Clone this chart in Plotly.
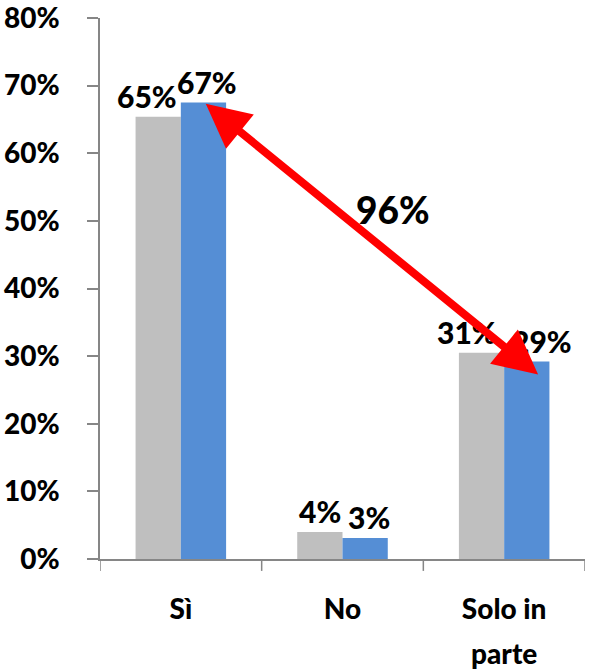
import plotly.graph_objects as go

categories = ["Sì", "No", "Solo in parte"]
grey_values = [65.4, 4.0, 30.5]
blue_values = [67.5, 3.1, 29.2]
grey_labels = ["65%", "4%", "31%"]
blue_labels = ["67%", "3%", "29%"]
arrow_label = "96%"
y_ticks = [0, 10, 20, 30, 40, 50, 60, 70, 80]

GREY = "#BFBFBF"
BLUE = "#558ED5"
RED = "#FF0000"
AXIS = "#868686"
FONT = "Lato"
W = 900

# wrap long category names onto two lines (like the original)
line1, line2 = [], []
for c in categories:
    if len(c) > 8 and " " in c:
        a, b = c.rsplit(" ", 1)
    else:
        a, b = c, ""
    line1.append(a)
    line2.append(b)

fig = go.Figure()
fig.add_trace(go.Bar(x=list(range(3)), y=grey_values, marker=dict(color=GREY, line=dict(width=0)),
                     hoverinfo="skip", name="A"))
fig.add_trace(go.Bar(x=list(range(3)), y=blue_values, marker=dict(color=BLUE, line=dict(width=0)),
                     hoverinfo="skip", name="B"))

half = 0.14  # half of group width (bargap 0.44)
nudges_grey = [-11, 0, -15]
nudges_blue = [4, 4, 15]
annotations = []
for i in range(3):
    annotations.append(dict(x=i - half, y=grey_values[i], text=grey_labels[i], showarrow=False,
                            xref="x", yref="y", yanchor="bottom", yshift=1, xshift=nudges_grey[i],
                            font=dict(family=FONT, size=30, color="black", weight=W)))
    annotations.append(dict(x=i + half, y=blue_values[i], text=blue_labels[i], showarrow=False,
                            xref="x", yref="y", yanchor="bottom", yshift=1, xshift=nudges_blue[i],
                            font=dict(family=FONT, size=30, color="black", weight=W)))
    if line2[i]:
        annotations.append(dict(x=i, y=0, yref="paper", xref="x", text=line2[i], showarrow=False,
                                yanchor="middle", yshift=-94,
                                font=dict(family=FONT, size=28, color="black", weight=W)))

# double-headed arrow between the blue bars of "Sì" and "Solo in parte"
annotations.append(dict(x=2 + half + 0.07, y=blue_values[2] - 1.9, ax=0 + half + 0.005, ay=blue_values[0],
                        xref="x", yref="y", axref="x", ayref="y", text="", showarrow=True,
                        arrowhead=2, startarrowhead=2, arrowside="end+start", arrowwidth=8,
                        arrowsize=1.1, startarrowsize=1.1, arrowcolor=RED))
annotations.append(dict(x=1.31, y=51.7, text=arrow_label, showarrow=False, xref="x", yref="y",
                        font=dict(family=FONT, size=37, color="black", weight=W)))

fig.update_layout(
    width=612, height=671,
    margin=dict(l=100, r=27, t=18, b=112, autoexpand=False),
    paper_bgcolor="white", plot_bgcolor="white",
    barmode="group", bargap=0.44, bargroupgap=0,
    showlegend=False,
    annotations=annotations,
)
fig.update_xaxes(
    type="linear", range=[-0.5, 2.5], automargin=False,
    tickmode="array", tickvals=list(range(3)), ticktext=line1,
    showline=True, linecolor=AXIS, linewidth=1.5,
    showgrid=False, zeroline=False,
    ticks="", ticklabelstandoff=25, ticklabeloverflow="allow",
    tickfont=dict(family=FONT, size=28, color="black", weight=W),
)
# boundary ticks on the x axis
for b in [-0.5, 0.5, 1.5, 2.5]:
    fig.add_shape(type="line", xref="x", yref="paper", x0=b, x1=b, y0=0, y1=-0.022,
                  line=dict(color=AXIS, width=1.5))
fig.update_yaxes(
    range=[0, 80.01], automargin=False,
    tickmode="array", tickvals=y_ticks, ticktext=[f"{v}%" for v in y_ticks],
    showline=True, linecolor=AXIS, linewidth=1.5,
    showgrid=False, zeroline=False,
    ticks="outside", ticklen=11, tickcolor=AXIS, tickwidth=1.5,
    ticklabelstandoff=22, ticklabeloverflow="allow",
    tickfont=dict(family=FONT, size=28, color="black", weight=W),
)

fig.write_html("out.html", post_script="document.body.style.margin='0';",
               config={"displayModeBar": False})
